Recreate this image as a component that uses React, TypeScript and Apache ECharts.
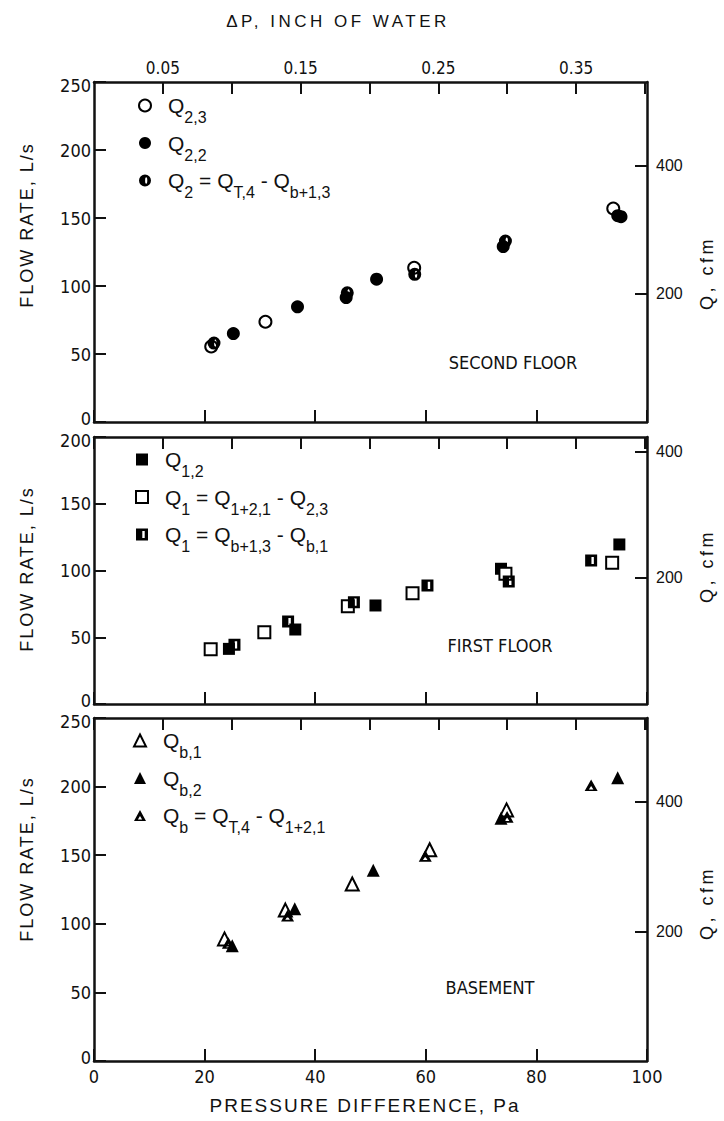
import React, { useEffect, useRef } from "react";
import * as echarts from "echarts";

// ---------- unit conversions ----------
const PA_PER_INCH_WATER = 249.0889;
const CFM_PER_LPS = 2.11888;

// ---------- axes ----------
const paRange = [0, 100];
const paInterval = 20;
const inchInterval = 0.05;
const inchLabelValues = [0.05, 0.15, 0.25, 0.35];
const flowMax = [250, 200, 250];
const flowInterval = 50;
const cfmTickValues = [200, 400];
const floorNames = ["SECOND FLOOR", "FIRST FLOOR", "BASEMENT"];

// ---------- data: [pressure difference Pa, flow rate L/s] ----------
// Second floor
const q23 = [[21.2, 55.5], [31.0, 73.7], [57.9, 113.4], [93.9, 157]];
const q22 = [[25.2, 65], [36.8, 84.7], [45.6, 91.5], [51.1, 105], [74.0, 129], [95.3, 151]];
const q2calc = [[21.7, 58], [45.8, 95], [58.0, 108.6], [74.4, 133], [94.7, 151.7]];
// First floor
const q12 = [[24.4, 41.3], [36.4, 55.8], [50.9, 73.8], [73.6, 101.3], [95.0, 119.5]];
const q1a = [[21.1, 41], [30.8, 53.8], [45.9, 73.3], [57.6, 83], [74.4, 97.5], [93.7, 105.8]];
const q1b = [[25.4, 44.3], [35.1, 61.8], [47.0, 76.3], [60.3, 88.8], [75.0, 91.8], [89.9, 107.5]];
// Basement
const qb1 = [[23.6, 89], [34.6, 110], [46.7, 129], [60.7, 154], [74.6, 183]];
const qb2 = [[25.0, 84], [36.3, 111], [50.5, 139], [73.6, 177], [94.7, 206.5]];
const qbcalc = [[24.3, 86], [35.0, 106], [59.9, 149.5], [74.7, 178], [89.9, 201]];

// ---------- symbols ----------
const HALF_CIRCLE =
  "path://M10,0A10,10,0,1,1,-10,0A10,10,0,1,1,10,0Z M2,-5.5A1.8,5.5,0,1,0,2,5.5A1.8,5.5,0,1,0,2,-5.5Z";
const HALF_RECT = "path://M-10,-10L10,-10L10,10L-10,10Z M0.5,-6L0.5,6L4.5,6L4.5,-6Z";
const HALF_TRI = "path://M0,-10L10,8L-10,8Z M0,0L-3.5,5.5L3.5,5.5Z";

const NUM_FONT = "'DejaVu Sans Condensed', 'Liberation Sans', sans-serif";
const SANS = "'Liberation Sans', Arial, sans-serif";
const INK = "#111";

const legendRich: Record<string, string> = {
  "Q2,3": "{q0|Q}{s|2,3}",
  "Q2,2": "{q0|Q}{s|2,2}",
  "Q2 = QT,4 - Qb+1,3": "{q0|Q}{s|2}{q| = Q}{s|T,4}{q| - Q}{s|b+1,3}",
  "Q1,2": "{q0|Q}{s|1,2}",
  "Q1 = Q1+2,1 - Q2,3": "{q0|Q}{s|1}{q| = Q}{s|1+2,1}{q| - Q}{s|2,3}",
  "Q1 = Qb+1,3 - Qb,1": "{q0|Q}{s|1}{q| = Q}{s|b+1,3}{q| - Q}{s|b,1}",
  "Qb,1": "{q0|Q}{s|b,1}",
  "Qb,2": "{q0|Q}{s|b,2}",
  "Qb = QT,4 - Q1+2,1": "{q0|Q}{s|b}{q| = Q}{s|T,4}{q| - Q}{s|1+2,1}",
};

const panels = [
  {
    series: [
      { name: "Q2,3", data: q23, symbol: "emptyCircle", size: 12 },
      { name: "Q2,2", data: q22, symbol: "circle", size: 13 },
      { name: "Q2 = QT,4 - Qb+1,3", data: q2calc, symbol: HALF_CIRCLE, size: 13 },
    ],
  },
  {
    series: [
      { name: "Q1,2", data: q12, symbol: "rect", size: 12 },
      { name: "Q1 = Q1+2,1 - Q2,3", data: q1a, symbol: "emptyRect", size: 12 },
      { name: "Q1 = Qb+1,3 - Qb,1", data: q1b, symbol: HALF_RECT, size: 12 },
    ],
  },
  {
    series: [
      { name: "Qb,1", data: qb1, symbol: "emptyTriangle", size: 13 },
      { name: "Qb,2", data: qb2, symbol: "triangle", size: 13 },
      { name: "Qb = QT,4 - Q1+2,1", data: qbcalc, symbol: HALF_TRI, size: 13 },
    ],
  },
];

const grids = [
  { left: 94, top: 82, width: 553, height: 340 },
  { left: 94, top: 437, width: 553, height: 267 },
  { left: 94, top: 718, width: 553, height: 343 },
];
const legendPos = [
  { left: 138, top: 95, gap: 7 },
  { left: 135, top: 449, gap: 7 },
  { left: 133, top: 730, gap: 7 },
];
const floorLabelPos = [
  [513, 362],
  [500, 645],
  [490, 987],
];
const flowTitleY = [225, 569, 859];
const cfmTitleY = [273, 566, 903];

const letterSpacing: Record<string, number> = {
  "ΔP, INCH OF WATER": 3.5,
  "FLOW RATE, L/s": 2,
  "Q, cfm": 3.5,
  "PRESSURE DIFFERENCE, Pa": 2,
};

function buildOption() {
  const axisLine = { show: true, onZero: false, lineStyle: { color: INK, width: 2.5 } };
  const tick = { show: true, inside: true, length: 12, lineStyle: { color: INK, width: 2 } };
  const xAxes: any[] = [];
  const yAxes: any[] = [];
  const series: any[] = [];
  const legends: any[] = [];
  const graphics: any[] = [];

  for (let i = 0; i < 3; i++) {
    xAxes.push({
      type: "value",
      gridIndex: i,
      position: "bottom",
      min: paRange[0],
      max: paRange[1],
      interval: paInterval,
      axisLine,
      axisTick: tick,
      splitLine: { show: false },
      axisLabel: {
        show: i === 2,
        margin: 6,
        color: INK,
        fontFamily: NUM_FONT,
        fontSize: 18,
      },
    });
  }
  for (let i = 0; i < 3; i++) {
    xAxes.push({
      type: "value",
      gridIndex: i,
      position: "top",
      min: 0,
      max: paRange[1] / PA_PER_INCH_WATER,
      interval: inchInterval,
      axisLine,
      axisTick: tick,
      splitLine: { show: false },
      axisLabel: {
        show: i === 0,
        margin: 6,
        color: INK,
        fontFamily: NUM_FONT,
        fontSize: 17,
        showMinLabel: false,
        showMaxLabel: false,
        formatter: (v: number) => {
          const r = Math.round(v * 100) / 100;
          return inchLabelValues.some((t) => Math.abs(t - r) < 1e-6) ? r.toFixed(2) : "";
        },
      },
    });
  }
  for (let i = 0; i < 3; i++) {
    const max = flowMax[i];
    yAxes.push({
      type: "value",
      gridIndex: i,
      position: "left",
      min: 0,
      max,
      interval: flowInterval,
      axisLine,
      axisTick: tick,
      splitLine: { show: false },
      axisLabel: {
        margin: 3,
        color: INK,
        fontFamily: NUM_FONT,
        fontSize: 18,
        formatter: (v: number) =>
          v === max ? `{hi|${v}}` : v === 0 ? `{lo|${v}}` : String(v),
        rich: {
          hi: { fontFamily: NUM_FONT, fontSize: 18, color: INK, padding: [7, 0, 0, 0] },
          lo: { fontFamily: NUM_FONT, fontSize: 18, color: INK, padding: [0, 0, 7, 0] },
        },
      },
    });
  }
  for (let i = 0; i < 3; i++) {
    yAxes.push({
      type: "value",
      gridIndex: i,
      position: "right",
      min: 0,
      max: flowMax[i] * CFM_PER_LPS,
      interval: 200,
      axisLine,
      axisTick: { ...tick, customValues: cfmTickValues },
      splitLine: { show: false },
      axisLabel: {
        margin: 9,
        color: INK,
        fontFamily: SANS,
        fontSize: 16,
        customValues: cfmTickValues,
        formatter: (v: number) => (cfmTickValues.indexOf(v) >= 0 ? String(v) : ""),
      },
    });
  }

  panels.forEach((p, i) => {
    p.series.forEach((s) => {
      series.push({
        type: "scatter",
        name: s.name,
        xAxisIndex: i,
        yAxisIndex: i,
        data: s.data,
        symbol: s.symbol,
        symbolSize: s.size,
        symbolKeepAspect: true,
        itemStyle: { color: "#000", opacity: 1 },
      });
    });
    legends.push({
      orient: "vertical",
      left: legendPos[i].left,
      top: legendPos[i].top,
      padding: 0,
      itemGap: legendPos[i].gap,
      itemWidth: 12,
      itemHeight: 12,
      selectedMode: false,
      data: p.series.map((s) => s.name),
      formatter: (name: string) => legendRich[name] || name,
      textStyle: {
        color: INK,
        rich: {
          q0: { fontSize: 21, fontFamily: SANS, color: INK, padding: [0, 0, 0, 12] },
          q: { fontSize: 21, fontFamily: SANS, color: INK },
          s: { fontSize: 16, fontFamily: SANS, color: INK, padding: [24, 0, 0, 0] },
        },
      },
    });
    graphics.push({
      type: "text",
      x: floorLabelPos[i][0],
      y: floorLabelPos[i][1],
      style: {
        text: floorNames[i],
        textAlign: "center",
        textVerticalAlign: "middle",
        fontSize: 18,
        fontFamily: NUM_FONT,
        fill: INK,
      },
    });
    graphics.push({
      type: "text",
      x: 27,
      y: flowTitleY[i],
      rotation: Math.PI / 2,
      style: {
        text: "FLOW RATE, L/s",
        textAlign: "center",
        textVerticalAlign: "middle",
        fontSize: 18,
        fontFamily: SANS,
        fill: INK,
      },
    });
    graphics.push({
      type: "text",
      x: 707,
      y: cfmTitleY[i],
      rotation: Math.PI / 2,
      style: {
        text: "Q, cfm",
        textAlign: "center",
        textVerticalAlign: "middle",
        fontSize: 18,
        fontFamily: SANS,
        fill: INK,
      },
    });
  });

  graphics.push({
    type: "text",
    x: 338,
    y: 21,
    style: {
      text: "ΔP, INCH OF WATER",
      textAlign: "center",
      textVerticalAlign: "middle",
      fontSize: 17,
      fontFamily: SANS,
      fill: INK,
    },
  });
  graphics.push({
    type: "text",
    x: 365,
    y: 1105,
    style: {
      text: "PRESSURE DIFFERENCE, Pa",
      textAlign: "center",
      textVerticalAlign: "middle",
      fontSize: 19,
      fontFamily: SANS,
      fill: INK,
    },
  });

  return {
    animation: false,
    backgroundColor: "#fff",
    grid: grids.map((g) => ({ ...g, containLabel: false, outerBoundsMode: "none" })),
    xAxis: xAxes,
    yAxis: yAxes,
    legend: legends,
    series,
    graphic: graphics,
  };
}

export default function App() {
  const ref = useRef<HTMLDivElement>(null);
  useEffect(() => {
    document.body.style.margin = "0";
    if (!ref.current) return;
    const chart = echarts.init(ref.current, null, { renderer: "svg" });
    chart.setOption(buildOption() as any);
    const applySpacing = () => {
      ref.current?.querySelectorAll("text").forEach((t) => {
        const s = letterSpacing[t.textContent || ""];
        if (s) t.setAttribute("letter-spacing", String(s));
      });
    };
    applySpacing();
    const id = window.setTimeout(applySpacing, 50);
    return () => {
      window.clearTimeout(id);
      chart.dispose();
    };
  }, []);
  return <div ref={ref} style={{ width: 724, height: 1121 }} />;
}
